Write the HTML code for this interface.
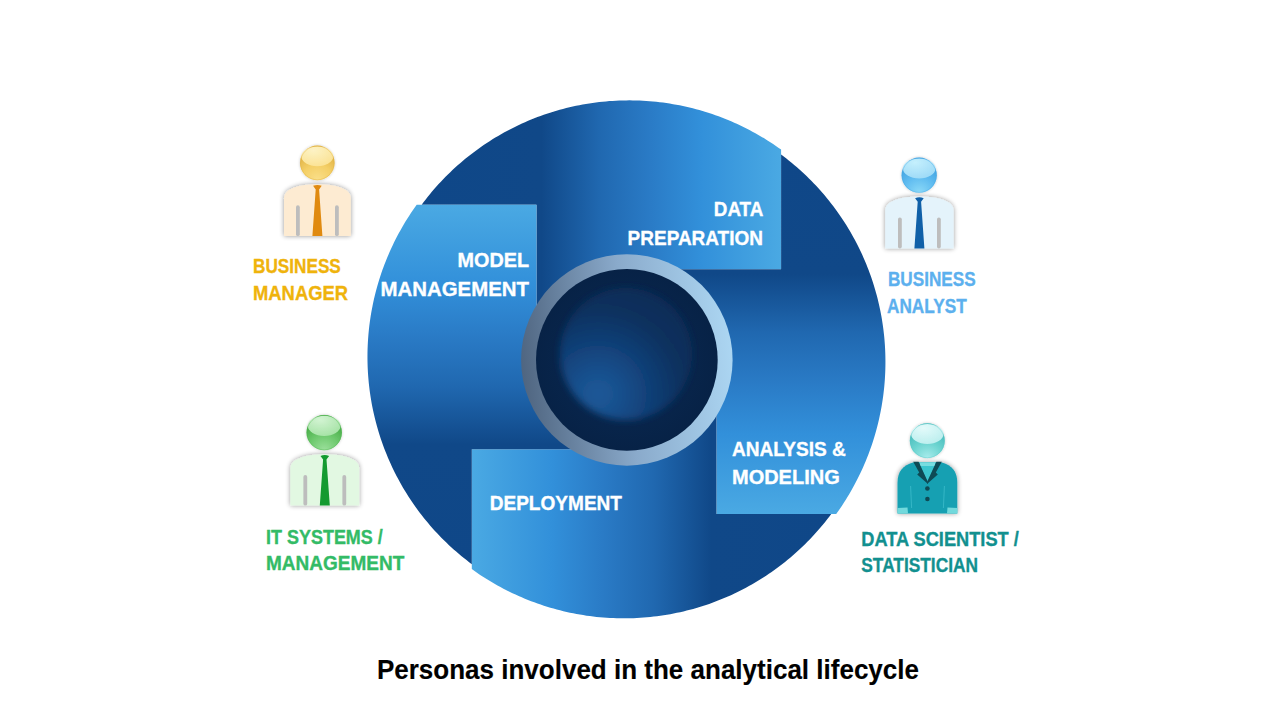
<!DOCTYPE html>
<html><head><meta charset="utf-8">
<style>
html,body{margin:0;padding:0;background:#ffffff;}
body{width:1280px;height:720px;overflow:hidden;}
svg{display:block;}
text{font-family:"Liberation Sans",sans-serif;font-weight:bold;}
</style></head><body>
<svg width="1280" height="720" viewBox="0 0 1280 720">
  <defs>
    <linearGradient id="pg" gradientUnits="userSpaceOnUse" x1="418" y1="0" x2="781" y2="0">
      <stop offset="0" stop-color="#0f4788"/>
      <stop offset="0.34" stop-color="#104888"/>
      <stop offset="0.5" stop-color="#2068b0"/>
      <stop offset="0.64" stop-color="#2a7bc6"/>
      <stop offset="0.78" stop-color="#3290da"/>
      <stop offset="1" stop-color="#4aa9e3"/>
    </linearGradient>
    <linearGradient id="ring" x1="0" y1="0.55" x2="1" y2="0.45">
      <stop offset="0" stop-color="#4f6580"/>
      <stop offset="0.5" stop-color="#8aaacb"/>
      <stop offset="1" stop-color="#acd6f2"/>
    </linearGradient>
    <radialGradient id="core" gradientUnits="userSpaceOnUse" cx="626" cy="360" r="92">
      <stop offset="0" stop-color="#0a2b56"/>
      <stop offset="1" stop-color="#072246"/>
    </radialGradient>
    <radialGradient id="blob" gradientUnits="userSpaceOnUse" cx="598" cy="394" r="120">
      <stop offset="0" stop-color="#1c5898"/>
      <stop offset="0.2" stop-color="#184f8c"/>
      <stop offset="0.45" stop-color="#103e75"/>
      <stop offset="0.72" stop-color="#0b305d"/>
      <stop offset="1" stop-color="#0a2b56"/>
    </radialGradient>
    <filter id="blobf" x="-30%" y="-30%" width="160%" height="160%"><feGaussianBlur stdDeviation="3.5"/></filter>
    <filter id="sh" x="-30%" y="-30%" width="160%" height="160%">
      <feGaussianBlur in="SourceAlpha" stdDeviation="2.4"/>
      <feComponentTransfer><feFuncA type="linear" slope="0.42"/></feComponentTransfer>
      <feMerge><feMergeNode/><feMergeNode in="SourceGraphic"/></feMerge>
    </filter>
    <filter id="bl" x="-20%" y="-20%" width="140%" height="140%"><feGaussianBlur stdDeviation="0.55"/></filter>
    <filter id="sh2" x="-40%" y="-40%" width="180%" height="180%">
      <feGaussianBlur in="SourceAlpha" stdDeviation="1.8"/>
      <feComponentTransfer><feFuncA type="linear" slope="0.22"/></feComponentTransfer>
      <feMerge><feMergeNode/><feMergeNode in="SourceGraphic"/></feMerge>
    </filter>
    
    <radialGradient id="hg" cx="0.5" cy="1.0" r="0.75">
      <stop offset="0" stop-color="#fadf8a"/>
      <stop offset="0.6" stop-color="#f4cf66"/>
      <stop offset="1" stop-color="#e4b84c"/>
    </radialGradient>
    <radialGradient id="hghl" cx="0.38" cy="0.2" r="0.85">
      <stop offset="0" stop-color="#fff6cc"/>
      <stop offset="1" stop-color="#fce496"/>
    </radialGradient>

    
    <radialGradient id="hb" cx="0.5" cy="1.0" r="0.75">
      <stop offset="0" stop-color="#8cdaf8"/>
      <stop offset="0.6" stop-color="#60bcf0"/>
      <stop offset="1" stop-color="#48a8e4"/>
    </radialGradient>
    <radialGradient id="hbhl" cx="0.38" cy="0.2" r="0.85">
      <stop offset="0" stop-color="#ccf4ff"/>
      <stop offset="1" stop-color="#a0dcf8"/>
    </radialGradient>

    
    <radialGradient id="hgr" cx="0.5" cy="1.0" r="0.75">
      <stop offset="0" stop-color="#9ce09c"/>
      <stop offset="0.6" stop-color="#6cc86c"/>
      <stop offset="1" stop-color="#4cb04c"/>
    </radialGradient>
    <radialGradient id="hgrhl" cx="0.38" cy="0.2" r="0.85">
      <stop offset="0" stop-color="#daf8da"/>
      <stop offset="1" stop-color="#a8e4a8"/>
    </radialGradient>

    
    <radialGradient id="ht" cx="0.5" cy="1.0" r="0.75">
      <stop offset="0" stop-color="#a8ecec"/>
      <stop offset="0.6" stop-color="#6cd4d0"/>
      <stop offset="1" stop-color="#50c0c0"/>
    </radialGradient>
    <radialGradient id="hthl" cx="0.38" cy="0.2" r="0.85">
      <stop offset="0" stop-color="#ecfefe"/>
      <stop offset="1" stop-color="#bff0f0"/>
    </radialGradient>

  </defs>
  <g>
    <path d="M421.66,204.7 L423.66,202.03 L425.7,199.39 L427.77,196.77 L429.87,194.18 L432.01,191.62 L434.18,189.09 L436.39,186.58 L438.62,184.1 L440.89,181.66 L443.19,179.24 L445.53,176.85 L447.89,174.49 L450.28,172.16 L452.71,169.86 L455.16,167.59 L457.65,165.36 L460.16,163.16 L462.7,160.99 L465.28,158.85 L467.87,156.75 L470.5,154.68 L473.15,152.64 L475.83,150.64 L478.54,148.67 L481.27,146.74 L484.03,144.85 L486.81,142.99 L489.61,141.16 L492.44,139.37 L495.3,137.62 L498.17,135.91 L501.07,134.23 L503.99,132.59 L506.93,130.99 L509.89,129.43 L512.88,127.9 L515.88,126.42 L518.9,124.97 L521.94,123.56 L525,122.19 L528.08,120.86 L531.18,119.58 L534.29,118.33 L537.42,117.12 L540.56,115.95 L543.72,114.82 L546.89,113.74 L550.08,112.69 L553.28,111.69 L556.5,110.73 L559.73,109.81 L562.97,108.93 L566.22,108.09 L569.48,107.3 L572.75,106.55 L576.04,105.84 L579.33,105.17 L582.63,104.55 L585.94,103.97 L589.26,103.43 L592.58,102.94 L595.91,102.49 L599.25,102.08 L602.59,101.71 L605.94,101.39 L609.29,101.12 L612.65,100.88 L616,100.69 L619.36,100.54 L622.73,100.44 L626.09,100.38 L629.46,100.36 L632.82,100.39 L636.19,100.46 L639.55,100.58 L642.92,100.74 L646.28,100.94 L649.64,101.19 L652.99,101.48 L656.35,101.81 L659.69,102.19 L663.04,102.61 L666.38,103.07 L669.71,103.58 L673.03,104.13 L676.35,104.73 L679.66,105.37 L682.97,106.05 L686.26,106.77 L689.55,107.54 L692.82,108.35 L696.09,109.2 L699.34,110.09 L702.58,111.03 L705.81,112.01 L709.03,113.03 L712.24,114.09 L715.43,115.19 L718.6,116.34 L721.77,117.53 L724.91,118.76 L728.04,120.03 L731.16,121.34 L734.26,122.69 L737.34,124.08 L740.4,125.51 L743.44,126.98 L746.47,128.49 L749.47,130.04 L752.46,131.63 L755.42,133.26 L758.37,134.92 L761.29,136.63 L764.19,138.37 L767.07,140.15 L769.92,141.97 L772.75,143.82 L775.56,145.72 L778.34,147.64 L781.1,149.61 L781.1,269.35 L665.23,269.35 A98,98 0 0 0 536.45,320.57 L536.45,204.7 Z" fill="url(#pg)"/>
    <path d="M421.66,204.7 L423.66,202.03 L425.7,199.39 L427.77,196.77 L429.87,194.18 L432.01,191.62 L434.18,189.09 L436.39,186.58 L438.62,184.1 L440.89,181.66 L443.19,179.24 L445.53,176.85 L447.89,174.49 L450.28,172.16 L452.71,169.86 L455.16,167.59 L457.65,165.36 L460.16,163.16 L462.7,160.99 L465.28,158.85 L467.87,156.75 L470.5,154.68 L473.15,152.64 L475.83,150.64 L478.54,148.67 L481.27,146.74 L484.03,144.85 L486.81,142.99 L489.61,141.16 L492.44,139.37 L495.3,137.62 L498.17,135.91 L501.07,134.23 L503.99,132.59 L506.93,130.99 L509.89,129.43 L512.88,127.9 L515.88,126.42 L518.9,124.97 L521.94,123.56 L525,122.19 L528.08,120.86 L531.18,119.58 L534.29,118.33 L537.42,117.12 L540.56,115.95 L543.72,114.82 L546.89,113.74 L550.08,112.69 L553.28,111.69 L556.5,110.73 L559.73,109.81 L562.97,108.93 L566.22,108.09 L569.48,107.3 L572.75,106.55 L576.04,105.84 L579.33,105.17 L582.63,104.55 L585.94,103.97 L589.26,103.43 L592.58,102.94 L595.91,102.49 L599.25,102.08 L602.59,101.71 L605.94,101.39 L609.29,101.12 L612.65,100.88 L616,100.69 L619.36,100.54 L622.73,100.44 L626.09,100.38 L629.46,100.36 L632.82,100.39 L636.19,100.46 L639.55,100.58 L642.92,100.74 L646.28,100.94 L649.64,101.19 L652.99,101.48 L656.35,101.81 L659.69,102.19 L663.04,102.61 L666.38,103.07 L669.71,103.58 L673.03,104.13 L676.35,104.73 L679.66,105.37 L682.97,106.05 L686.26,106.77 L689.55,107.54 L692.82,108.35 L696.09,109.2 L699.34,110.09 L702.58,111.03 L705.81,112.01 L709.03,113.03 L712.24,114.09 L715.43,115.19 L718.6,116.34 L721.77,117.53 L724.91,118.76 L728.04,120.03 L731.16,121.34 L734.26,122.69 L737.34,124.08 L740.4,125.51 L743.44,126.98 L746.47,128.49 L749.47,130.04 L752.46,131.63 L755.42,133.26 L758.37,134.92 L761.29,136.63 L764.19,138.37 L767.07,140.15 L769.92,141.97 L772.75,143.82 L775.56,145.72 L778.34,147.64 L781.1,149.61 L781.1,269.35 L665.23,269.35 A98,98 0 0 0 536.45,320.57 L536.45,204.7 Z" fill="url(#pg)" transform="rotate(90 626.45 359.35)"/>
    <path d="M421.66,204.7 L423.66,202.03 L425.7,199.39 L427.77,196.77 L429.87,194.18 L432.01,191.62 L434.18,189.09 L436.39,186.58 L438.62,184.1 L440.89,181.66 L443.19,179.24 L445.53,176.85 L447.89,174.49 L450.28,172.16 L452.71,169.86 L455.16,167.59 L457.65,165.36 L460.16,163.16 L462.7,160.99 L465.28,158.85 L467.87,156.75 L470.5,154.68 L473.15,152.64 L475.83,150.64 L478.54,148.67 L481.27,146.74 L484.03,144.85 L486.81,142.99 L489.61,141.16 L492.44,139.37 L495.3,137.62 L498.17,135.91 L501.07,134.23 L503.99,132.59 L506.93,130.99 L509.89,129.43 L512.88,127.9 L515.88,126.42 L518.9,124.97 L521.94,123.56 L525,122.19 L528.08,120.86 L531.18,119.58 L534.29,118.33 L537.42,117.12 L540.56,115.95 L543.72,114.82 L546.89,113.74 L550.08,112.69 L553.28,111.69 L556.5,110.73 L559.73,109.81 L562.97,108.93 L566.22,108.09 L569.48,107.3 L572.75,106.55 L576.04,105.84 L579.33,105.17 L582.63,104.55 L585.94,103.97 L589.26,103.43 L592.58,102.94 L595.91,102.49 L599.25,102.08 L602.59,101.71 L605.94,101.39 L609.29,101.12 L612.65,100.88 L616,100.69 L619.36,100.54 L622.73,100.44 L626.09,100.38 L629.46,100.36 L632.82,100.39 L636.19,100.46 L639.55,100.58 L642.92,100.74 L646.28,100.94 L649.64,101.19 L652.99,101.48 L656.35,101.81 L659.69,102.19 L663.04,102.61 L666.38,103.07 L669.71,103.58 L673.03,104.13 L676.35,104.73 L679.66,105.37 L682.97,106.05 L686.26,106.77 L689.55,107.54 L692.82,108.35 L696.09,109.2 L699.34,110.09 L702.58,111.03 L705.81,112.01 L709.03,113.03 L712.24,114.09 L715.43,115.19 L718.6,116.34 L721.77,117.53 L724.91,118.76 L728.04,120.03 L731.16,121.34 L734.26,122.69 L737.34,124.08 L740.4,125.51 L743.44,126.98 L746.47,128.49 L749.47,130.04 L752.46,131.63 L755.42,133.26 L758.37,134.92 L761.29,136.63 L764.19,138.37 L767.07,140.15 L769.92,141.97 L772.75,143.82 L775.56,145.72 L778.34,147.64 L781.1,149.61 L781.1,269.35 L665.23,269.35 A98,98 0 0 0 536.45,320.57 L536.45,204.7 Z" fill="url(#pg)" transform="rotate(180 626.45 359.35)"/>
    <path d="M421.66,204.7 L423.66,202.03 L425.7,199.39 L427.77,196.77 L429.87,194.18 L432.01,191.62 L434.18,189.09 L436.39,186.58 L438.62,184.1 L440.89,181.66 L443.19,179.24 L445.53,176.85 L447.89,174.49 L450.28,172.16 L452.71,169.86 L455.16,167.59 L457.65,165.36 L460.16,163.16 L462.7,160.99 L465.28,158.85 L467.87,156.75 L470.5,154.68 L473.15,152.64 L475.83,150.64 L478.54,148.67 L481.27,146.74 L484.03,144.85 L486.81,142.99 L489.61,141.16 L492.44,139.37 L495.3,137.62 L498.17,135.91 L501.07,134.23 L503.99,132.59 L506.93,130.99 L509.89,129.43 L512.88,127.9 L515.88,126.42 L518.9,124.97 L521.94,123.56 L525,122.19 L528.08,120.86 L531.18,119.58 L534.29,118.33 L537.42,117.12 L540.56,115.95 L543.72,114.82 L546.89,113.74 L550.08,112.69 L553.28,111.69 L556.5,110.73 L559.73,109.81 L562.97,108.93 L566.22,108.09 L569.48,107.3 L572.75,106.55 L576.04,105.84 L579.33,105.17 L582.63,104.55 L585.94,103.97 L589.26,103.43 L592.58,102.94 L595.91,102.49 L599.25,102.08 L602.59,101.71 L605.94,101.39 L609.29,101.12 L612.65,100.88 L616,100.69 L619.36,100.54 L622.73,100.44 L626.09,100.38 L629.46,100.36 L632.82,100.39 L636.19,100.46 L639.55,100.58 L642.92,100.74 L646.28,100.94 L649.64,101.19 L652.99,101.48 L656.35,101.81 L659.69,102.19 L663.04,102.61 L666.38,103.07 L669.71,103.58 L673.03,104.13 L676.35,104.73 L679.66,105.37 L682.97,106.05 L686.26,106.77 L689.55,107.54 L692.82,108.35 L696.09,109.2 L699.34,110.09 L702.58,111.03 L705.81,112.01 L709.03,113.03 L712.24,114.09 L715.43,115.19 L718.6,116.34 L721.77,117.53 L724.91,118.76 L728.04,120.03 L731.16,121.34 L734.26,122.69 L737.34,124.08 L740.4,125.51 L743.44,126.98 L746.47,128.49 L749.47,130.04 L752.46,131.63 L755.42,133.26 L758.37,134.92 L761.29,136.63 L764.19,138.37 L767.07,140.15 L769.92,141.97 L772.75,143.82 L775.56,145.72 L778.34,147.64 L781.1,149.61 L781.1,269.35 L665.23,269.35 A98,98 0 0 0 536.45,320.57 L536.45,204.7 Z" fill="url(#pg)" transform="rotate(270 626.45 359.35)"/>
  </g>
  <circle cx="626.85" cy="359.9" r="105.75" fill="url(#ring)"/>
  <circle cx="626.85" cy="359.9" r="90.85" fill="url(#core)"/>
  <circle cx="626" cy="354" r="66" fill="url(#blob)" filter="url(#blobf)"/>
  
  <g filter="url(#sh)">
    <path d="M284,236.1 V198.2 C284,188.2 299.4,184.2 317.4,184.2 C335.4,184.2 350.8,188.2 350.8,198.2 V236.1 Z" fill="#fdebd2"/>
  </g>
  <rect x='296' y='205.3' width='3.8' height='30.8' rx='1.9' fill='#bdbdbd'/><rect x='335' y='205.3' width='3.8' height='30.8' rx='1.9' fill='#bdbdbd'/>
  <path d="M313.1,185.8 Q317.4,184 321.7,185.8 L319.1,189.4 L322.4,236.1 L312.4,236.1 L315.7,189.4 Z" fill="#e08a10"/>
  <g filter="url(#sh2)"><circle cx="317.3" cy="162.9" r="17.3" fill="url(#hg)"/></g>
  <ellipse cx="317.3" cy="156.35" rx="16" ry="9.85" fill="url(#hghl)" opacity="0.95" filter="url(#bl)"/>
  <circle cx="317.3" cy="162.9" r="16.9" fill="none" stroke="#dcae3c" stroke-width="0.7" opacity="0.55"/>


  
  <g filter="url(#sh)">
    <path d="M885.2,248.5 V210.6 C885.2,200.6 901.4,196.6 919.4,196.6 C937.4,196.6 953.6,200.6 953.6,210.6 V248.5 Z" fill="#e4f3fb"/>
  </g>
  <rect x='898' y='217.4' width='3.8' height='31.1' rx='1.9' fill='#bdbdbd'/><rect x='937' y='217.4' width='3.8' height='31.1' rx='1.9' fill='#bdbdbd'/>
  <path d="M915.1,198.2 Q919.4,196.4 923.7,198.2 L921.1,201.8 L924.4,248.5 L914.4,248.5 L917.7,201.8 Z" fill="#1060a8"/>
  <g filter="url(#sh2)"><circle cx="919.2" cy="175.2" r="17.6" fill="url(#hb)"/></g>
  <ellipse cx="919.2" cy="168.5" rx="16.3" ry="10" fill="url(#hbhl)" opacity="0.95" filter="url(#bl)"/>
  <circle cx="919.2" cy="175.2" r="17.2" fill="none" stroke="#45a6e2" stroke-width="0.7" opacity="0.55"/>


  
  <g filter="url(#sh)">
    <path d="M290.4,505.6 V468.3 C290.4,458.3 306.8,454.3 324.8,454.3 C342.8,454.3 359.2,458.3 359.2,468.3 V505.6 Z" fill="#e2f8e2"/>
  </g>
  <rect x='303.4' y='475' width='3.8' height='30.6' rx='1.9' fill='#bdbdbd'/><rect x='342.4' y='475' width='3.8' height='30.6' rx='1.9' fill='#bdbdbd'/>
  <path d="M320.5,455.9 Q324.8,454.1 329.1,455.9 L326.5,459.5 L329.8,505.6 L319.8,505.6 L323.1,459.5 Z" fill="#149a30"/>
  <g filter="url(#sh2)"><circle cx="324.2" cy="432.6" r="17.7" fill="url(#hgr)"/></g>
  <ellipse cx="324.2" cy="425.85" rx="16.4" ry="10.05" fill="url(#hgrhl)" opacity="0.95" filter="url(#bl)"/>
  <circle cx="324.2" cy="432.6" r="17.3" fill="none" stroke="#4cb44c" stroke-width="0.7" opacity="0.55"/>


  <!-- data scientist -->
  <g filter="url(#sh)">
    <path d="M897.5,513.5 V483 C897.5,471 903,465.5 913,462.5 L942,462.5 C952,465.5 957.3,471 957.3,483 V513.5 Z" fill="#18a0b2"/>
  </g>
  <path d="M919,462.5 L936,462.5 L927.5,482 Z" fill="#3cc6cf"/>
  <rect x="920" y="462.5" width="15" height="3.5" fill="#78dde0"/>
  <path d="M913.2,461.8 L918.6,461.8 L927.7,481.4 L928,484 L917.2,474.4 L919.2,472.4 Z" fill="#0e4a55"/>
  <path d="M941.8,461.8 L936.4,461.8 L927.3,481.4 L927,484 L937.8,474.4 L935.8,472.4 Z" fill="#0e4a55"/>
  <path d="M910.6,486 L911.6,508" stroke="#3dbccb" stroke-width="1" opacity="0.8"/>
  <path d="M944.4,486 L943.4,508" stroke="#3dbccb" stroke-width="1" opacity="0.8"/>
  <circle cx="927.4" cy="488.5" r="2.3" fill="#0e4a55"/>
  <circle cx="927.4" cy="499" r="2.3" fill="#0e4a55"/>
  <path d="M897.5,508 L907.5,507.5 L908,513.5 L897.5,513.5 Z" fill="#72d9dc"/>
  <path d="M947.5,507.5 L957.3,508 L957.3,513.5 L947,513.5 Z" fill="#72d9dc"/>
  <g filter="url(#sh2)"><circle cx="927.3" cy="440.7" r="17.5" fill="url(#ht)"/></g>
  <ellipse cx="927.3" cy="434.05" rx="16.2" ry="9.95" fill="url(#hthl)" opacity="0.95" filter="url(#bl)"/>
  <circle cx="927.3" cy="440.7" r="17.1" fill="none" stroke="#56c4c4" stroke-width="0.7" opacity="0.55"/>

  <text x='457.5' y='267.3' font-size='20.6' fill='#ffffff' stroke='#ffffff' stroke-width='0.35' text-anchor='start' textLength='71.5' lengthAdjust='spacingAndGlyphs'>MODEL</text><text x='380.6' y='295.6' font-size='20.6' fill='#ffffff' stroke='#ffffff' stroke-width='0.35' text-anchor='start' textLength='148.4' lengthAdjust='spacingAndGlyphs'>MANAGEMENT</text><text x='713.8' y='216' font-size='20.6' fill='#ffffff' stroke='#ffffff' stroke-width='0.35' text-anchor='start' textLength='49.5' lengthAdjust='spacingAndGlyphs'>DATA</text><text x='627.6' y='244.6' font-size='20.6' fill='#ffffff' stroke='#ffffff' stroke-width='0.35' text-anchor='start' textLength='135.4' lengthAdjust='spacingAndGlyphs'>PREPARATION</text><text x='732' y='455.8' font-size='20.6' fill='#ffffff' stroke='#ffffff' stroke-width='0.35' text-anchor='start' textLength='113.8' lengthAdjust='spacingAndGlyphs'>ANALYSIS &amp;</text><text x='732' y='484.2' font-size='20.6' fill='#ffffff' stroke='#ffffff' stroke-width='0.35' text-anchor='start' textLength='107.7' lengthAdjust='spacingAndGlyphs'>MODELING</text><text x='489.7' y='510.4' font-size='20.6' fill='#ffffff' stroke='#ffffff' stroke-width='0.35' text-anchor='start' textLength='132.3' lengthAdjust='spacingAndGlyphs'>DEPLOYMENT</text><text x='253' y='273' font-size='20.6' fill='#efb30c' stroke='#efb30c' stroke-width='0.35' text-anchor='start' textLength='87.8' lengthAdjust='spacingAndGlyphs'>BUSINESS</text><text x='253' y='299.7' font-size='20.6' fill='#efb30c' stroke='#efb30c' stroke-width='0.35' text-anchor='start' textLength='95.1' lengthAdjust='spacingAndGlyphs'>MANAGER</text><text x='888' y='285.9' font-size='20.6' fill='#5cb0ee' stroke='#5cb0ee' stroke-width='0.35' text-anchor='start' textLength='87.6' lengthAdjust='spacingAndGlyphs'>BUSINESS</text><text x='887' y='312.6' font-size='20.6' fill='#5cb0ee' stroke='#5cb0ee' stroke-width='0.35' text-anchor='start' textLength='79.7' lengthAdjust='spacingAndGlyphs'>ANALYST</text><text x='266.1' y='543.5' font-size='20.6' fill='#33bb66' stroke='#33bb66' stroke-width='0.35' text-anchor='start' textLength='116.65' lengthAdjust='spacingAndGlyphs'>IT SYSTEMS /</text><text x='266' y='570.25' font-size='20.6' fill='#33bb66' stroke='#33bb66' stroke-width='0.35' text-anchor='start' textLength='138.25' lengthAdjust='spacingAndGlyphs'>MANAGEMENT</text><text x='861.3' y='545.9' font-size='20.6' fill='#12908f' stroke='#12908f' stroke-width='0.35' text-anchor='start' textLength='157.5' lengthAdjust='spacingAndGlyphs'>DATA SCIENTIST /</text><text x='861.3' y='572.3' font-size='20.6' fill='#12908f' stroke='#12908f' stroke-width='0.35' text-anchor='start' textLength='116.7' lengthAdjust='spacingAndGlyphs'>STATISTICIAN</text><text x='376.9' y='679' font-size='27.5' fill='#000000' stroke='#000000' stroke-width='0.15' text-anchor='start' textLength='542.1' lengthAdjust='spacingAndGlyphs'>Personas involved in the analytical lifecycle</text>
</svg>
</body></html>
